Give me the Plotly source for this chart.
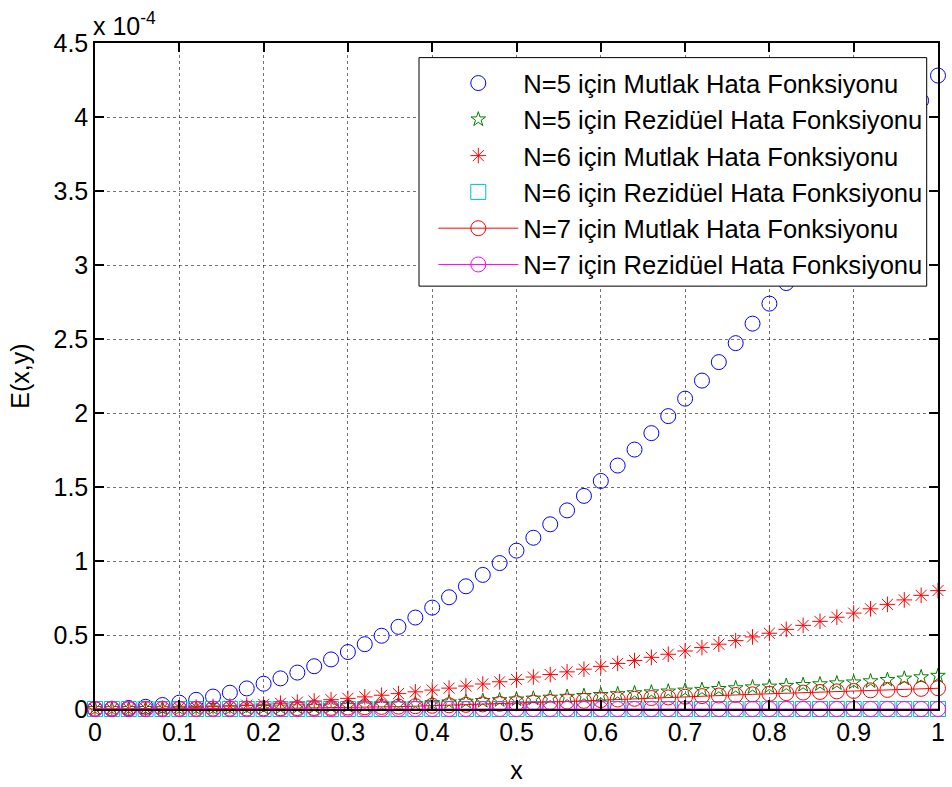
import plotly.graph_objects as go

# x grid (0 : 0.02 : 1)
x_vals = [0.00, 0.02, 0.04, 0.06, 0.08, 0.10, 0.12, 0.14, 0.16, 0.18,
          0.20, 0.22, 0.24, 0.26, 0.28, 0.30, 0.32, 0.34, 0.36, 0.38,
          0.40, 0.42, 0.44, 0.46, 0.48, 0.50, 0.52, 0.54, 0.56, 0.58,
          0.60, 0.62, 0.64, 0.66, 0.68, 0.70, 0.72, 0.74, 0.76, 0.78,
          0.80, 0.82, 0.84, 0.86, 0.88, 0.90, 0.92, 0.94, 0.96, 0.98, 1.00]

# values in units of 1e-4
n5_mutlak = [0.000, 0.002, 0.007, 0.015, 0.027, 0.043, 0.062, 0.084, 0.110, 0.139,
             0.171, 0.207, 0.246, 0.289, 0.335, 0.385, 0.438, 0.495, 0.555, 0.618,
             0.685, 0.755, 0.829, 0.906, 0.986, 1.070, 1.157, 1.248, 1.342, 1.440,
             1.541, 1.645, 1.753, 1.864, 1.979, 2.097, 2.219, 2.344, 2.472, 2.604,
             2.739, 2.878, 3.020, 3.166, 3.315, 3.467, 3.623, 3.782, 3.945, 4.111, 4.280]

n5_rezid = [0.000, 0.000, 0.001, 0.001, 0.002, 0.002, 0.003, 0.004, 0.005, 0.007,
            0.008, 0.010, 0.012, 0.014, 0.017, 0.020, 0.024, 0.028, 0.031, 0.035,
            0.040, 0.045, 0.050, 0.055, 0.060, 0.065, 0.071, 0.077, 0.083, 0.089,
            0.095, 0.101, 0.107, 0.113, 0.119, 0.125, 0.130, 0.136, 0.141, 0.147,
            0.152, 0.157, 0.163, 0.168, 0.174, 0.180, 0.188, 0.197, 0.206, 0.215, 0.225]

n6_mutlak = [0.000, 0.000, 0.001, 0.003, 0.005, 0.008, 0.012, 0.016, 0.020, 0.026,
             0.032, 0.039, 0.046, 0.054, 0.063, 0.072, 0.082, 0.093, 0.104, 0.116,
             0.128, 0.141, 0.155, 0.169, 0.184, 0.200, 0.216, 0.233, 0.251, 0.269,
             0.288, 0.308, 0.328, 0.349, 0.370, 0.392, 0.415, 0.438, 0.462, 0.487,
             0.512, 0.538, 0.565, 0.592, 0.620, 0.648, 0.677, 0.707, 0.737, 0.768, 0.800]

n6_rezid = [0.000, 0.000, 0.000, 0.000, 0.000, 0.000, 0.000, 0.000, 0.000, 0.000,
            0.000, 0.000, 0.000, 0.000, 0.000, 0.000, 0.000, 0.000, 0.000, 0.000,
            0.000, 0.000, 0.000, 0.000, 0.000, 0.000, 0.000, 0.000, 0.000, 0.000,
            0.000, 0.000, 0.000, 0.000, 0.000, 0.000, 0.000, 0.000, 0.000, 0.000,
            0.000, 0.000, 0.000, 0.000, 0.000, 0.000, 0.000, 0.000, 0.000, 0.000, 0.000]

n7_mutlak = [0.000, 0.000, 0.000, 0.000, 0.001, 0.001, 0.001, 0.002, 0.002, 0.003,
             0.004, 0.005, 0.006, 0.007, 0.008, 0.010, 0.012, 0.014, 0.016, 0.019,
             0.022, 0.025, 0.028, 0.031, 0.035, 0.039, 0.043, 0.047, 0.051, 0.055,
             0.060, 0.064, 0.069, 0.074, 0.078, 0.083, 0.087, 0.091, 0.095, 0.099,
             0.103, 0.107, 0.111, 0.115, 0.119, 0.122, 0.126, 0.129, 0.133, 0.136, 0.140]

n7_rezid = [0.000, 0.000, 0.000, 0.000, 0.000, 0.000, 0.000, 0.000, 0.000, 0.000,
            0.000, 0.000, 0.000, 0.000, 0.000, 0.000, 0.000, 0.000, 0.000, 0.000,
            0.000, 0.000, 0.000, 0.000, 0.000, 0.000, 0.000, 0.000, 0.000, 0.000,
            0.000, 0.000, 0.000, 0.000, 0.000, 0.000, 0.000, 0.000, 0.000, 0.000,
            0.000, 0.000, 0.000, 0.000, 0.000, 0.000, 0.000, 0.000, 0.000, 0.000, 0.000]

names = ["N=5 için Mutlak Hata Fonksiyonu",
         "N=5 için Rezidüel Hata Fonksiyonu",
         "N=6 için Mutlak Hata Fonksiyonu",
         "N=6 için Rezidüel Hata Fonksiyonu",
         "N=7 için Mutlak Hata Fonksiyonu",
         "N=7 için Rezidüel Hata Fonksiyonu"]

x_ticks = [0, 0.1, 0.2, 0.3, 0.4, 0.5, 0.6, 0.7, 0.8, 0.9, 1]
x_ticktext = ["0", "0.1", "0.2", "0.3", "0.4", "0.5", "0.6", "0.7", "0.8", "0.9", "1"]
y_ticks = [0, 0.5, 1, 1.5, 2, 2.5, 3, 3.5, 4, 4.5]
y_ticktext = ["0", "0.5", "1", "1.5", "2", "2.5", "3", "3.5", "4", "4.5"]

FONT = "Liberation Sans, Arial, sans-serif"

fig = go.Figure()
fig.add_trace(go.Scatter(x=x_vals, y=n5_mutlak, mode="markers", name=names[0],
                         marker=dict(symbol="circle-open", size=15, color="#0000ff",
                                     line=dict(width=1)), cliponaxis=False))
fig.add_trace(go.Scatter(x=x_vals, y=n5_rezid, mode="markers", name=names[1],
                         marker=dict(symbol="star-open", size=11, color="#008000",
                                     line=dict(width=1)), cliponaxis=False))
fig.add_trace(go.Scatter(x=x_vals, y=n6_mutlak, mode="markers", name=names[2],
                         marker=dict(symbol="asterisk-open", size=13, color="#ff0000",
                                     line=dict(width=1, color="#ff0000")), cliponaxis=False))
fig.add_trace(go.Scatter(x=x_vals, y=n6_rezid, mode="markers", name=names[3],
                         marker=dict(symbol="square-open", size=15, color="#00bfbf",
                                     line=dict(width=1)), cliponaxis=False))
fig.add_trace(go.Scatter(x=x_vals, y=n7_mutlak, mode="lines+markers", name=names[4],
                         line=dict(color="#ff0000", width=1),
                         marker=dict(symbol="circle-open", size=15, color="#ff0000",
                                     line=dict(width=1)), cliponaxis=False))
fig.add_trace(go.Scatter(x=x_vals, y=n7_rezid, mode="lines+markers", name=names[5],
                         line=dict(color="#ff00ff", width=1),
                         marker=dict(symbol="circle-open", size=15, color="#ff00ff",
                                     line=dict(width=1)), cliponaxis=False))

axis_common = dict(
    showline=True, linecolor="black", linewidth=1.5, mirror="ticks",
    ticks="inside", ticklen=9, tickwidth=1.5, tickcolor="black",
    showgrid=True, gridcolor="rgba(0,0,0,0.55)", griddash="dot", gridwidth=1,
    zeroline=False, tickfont=dict(family=FONT, size=25, color="black"),
)

fig.update_xaxes(range=[0, 1], tickvals=x_ticks, ticktext=x_ticktext,
                 title=dict(text="x", font=dict(family=FONT, size=25, color="black"),
                            standoff=17),
                 **axis_common)
fig.update_yaxes(range=[0, 4.5], tickvals=y_ticks, ticktext=y_ticktext,
                 title=dict(text="E(x,y)", font=dict(family=FONT, size=25, color="black"),
                            standoff=17),
                 **axis_common)

fig.add_annotation(xref="paper", yref="paper", x=0, y=1, xanchor="left", yanchor="bottom",
                   text="x 10<sup>-4</sup>", showarrow=False, yshift=1, xshift=-4,
                   font=dict(family=FONT, size=25, color="black"))

# legend frame (white box with black border, hides data underneath)
fig.add_shape(type="rect", xref="paper", yref="paper",
              x0=0.38435, x1=0.98659, y0=0.63493, y1=0.97806,
              line=dict(color="black", width=1), fillcolor="white", layer="above")

fig.update_layout(
    width=952, height=787,
    margin=dict(l=95, r=7, t=43, b=74),
    plot_bgcolor="white", paper_bgcolor="white",
    font=dict(family=FONT, size=25, color="black"),
    legend=dict(x=0.4013, y=0.9746, xanchor="left", yanchor="top",
                bgcolor="rgba(0,0,0,0)", borderwidth=0,
                font=dict(family=FONT, size=25.6, color="black"),
                itemwidth=80),
)

fig.write_html("out.html", config={"displayModeBar": False},
               post_script="document.body.style.margin='0';")
